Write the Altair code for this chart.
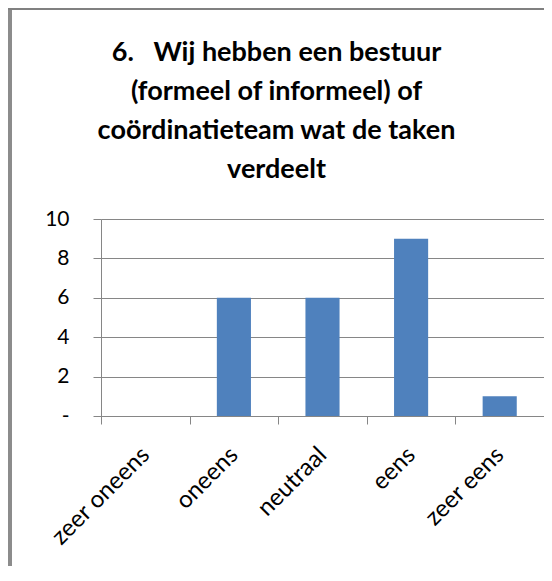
import altair as alt
import pandas as pd

categories = ["zeer oneens", "oneens", "neutraal", "eens", "zeer eens"]
values = [0, 6, 6, 9, 1]
title_lines = ["6.\u00a0\u00a0 Wij hebben een bestuur", "(formeel of informeel) of",
               "coördinatieteam wat de taken", "verdeelt"]

df = pd.DataFrame({"cat": categories, "val": values})

FONT = "Lato"
GREY = "#868686"

bars = alt.Chart(df).mark_bar(color="#4F81BD", width=alt.RelativeBandSize(0.385)).encode(
    x=alt.X("cat:N", sort=categories,
            scale=alt.Scale(paddingInner=0, paddingOuter=0),
            axis=alt.Axis(title=None, labelAngle=-45, labelAlign="right",
                          labelBaseline="middle", labelPadding=27, labelOffset=0,
                          labelFontSize=24, labelFont=FONT, labelColor="#000",
                          tickBand="extent", tickSize=8, tickColor=GREY,
                          domainColor=GREY, grid=False)),
    y=alt.Y("val:Q", scale=alt.Scale(domain=[0, 10]),
            axis=alt.Axis(title=None, values=[0, 2, 4, 6, 8, 10],
                          labelExpr="datum.value == 0 ? '-' : datum.label",
                          labelFontSize=21, labelFont=FONT, labelColor="#000",
                          labelPadding=24, tickSize=8, tickColor=GREY,
                          domainColor=GREY, gridColor=GREY, grid=True)),
)

frame_left = alt.Chart(df).mark_rule(color="#8c8c8c", strokeWidth=4).encode(
    x=alt.value(-91), y=alt.value(-211), y2=alt.value(400))
frame_top = alt.Chart(df).mark_rule(color="#808080", strokeWidth=2).encode(
    x=alt.value(-93), x2=alt.value(443), y=alt.value(-210))

chart = alt.layer(bars, frame_left, frame_top).properties(
    width=443, height=197,
    autosize=alt.AutoSizeParams(type="none"),
    padding={"left": 93, "top": 211, "right": 0, "bottom": 150},
    title=alt.TitleParams(text=title_lines, font=FONT, fontSize=27,
                          fontWeight="bold", lineHeight=39, anchor="middle",
                          dx=-46, offset=-178, color="#000"),
).configure_view(stroke=None).configure(background="white")

chart.save("out.html", embed_options={"renderer": "svg", "actions": False})
